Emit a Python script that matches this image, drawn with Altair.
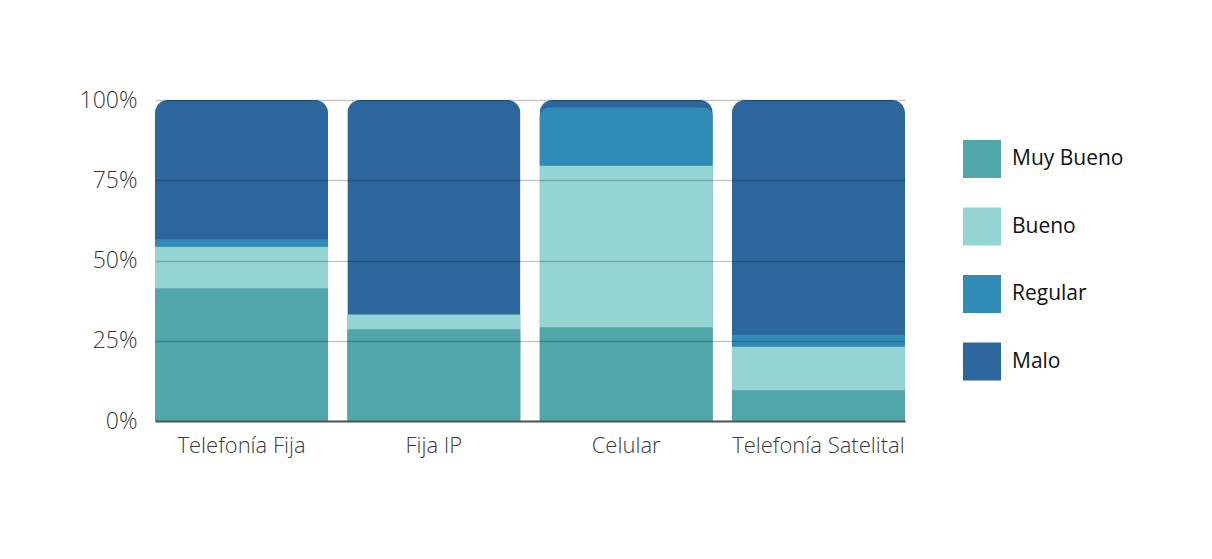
import altair as alt
import pandas as pd

categories = ["Telefonía Fija", "Fija IP", "Celular", "Telefonía Satelital"]
series = ["Muy Bueno", "Bueno", "Regular", "Malo"]
muy_bueno = [41.3, 28.5, 29.1, 9.5]
bueno = [13.1, 4.7, 50.5, 13.7]
regular = [2.2, 0.0, 18.1, 3.7]
malo = [43.4, 66.8, 2.3, 73.1]
colors = ["#50A6A9", "#94D5D4", "#318BB7", "#2D669C"]
y_ticks = [0, 25, 50, 75, 100]

rows = []
for i, c in enumerate(categories):
    vals = [muy_bueno[i], bueno[i], regular[i], malo[i]]
    base = 0.0
    for s, v in zip(series, vals):
        rows.append({"cat": c, "serie": s, "bottom": base, "top": base + v, "order": series.index(s)})
        base += v
seg = pd.DataFrame(rows)
seg_nomalo = seg[seg["serie"] != "Malo"]
tot = pd.DataFrame({"cat": categories,
                    "total": [a + b + c + d for a, b, c, d in zip(muy_bueno, bueno, regular, malo)]})

FONT = "Open Sans"

x_enc = alt.X("cat:N", sort=categories, title=None,
              scale=alt.Scale(paddingInner=0.1, paddingOuter=0),
              axis=alt.Axis(labelAngle=0, labelFont=FONT, labelFontSize=22, labelFontWeight=300,
                            labelColor="#3a3a3a", labelPadding=14, ticks=False,
                            domainColor="#555555", domainWidth=2, zindex=1, grid=False))

y_scale = alt.Scale(domain=[0, 100], nice=False)

bg = alt.Chart(tot).mark_bar(color=colors[3], cornerRadiusTopLeft=13, cornerRadiusTopRight=13).encode(
    x=x_enc,
    y=alt.Y("total:Q", scale=y_scale, title=None,
            axis=alt.Axis(values=y_ticks, labelExpr="datum.value + '%'", labelFont=FONT,
                          labelFontSize=23, labelFontWeight=300, labelColor="#3a3a3a",
                          labelPadding=18, ticks=False, domain=False, grid=True,
                          gridColor="#000000", gridOpacity=0.22, gridWidth=1.5, zindex=1)),
)

bars = alt.Chart(seg_nomalo).mark_bar(
    cornerRadiusTopLeft={"expr": "datum.top > 95 ? 9 : 0"},
    cornerRadiusTopRight={"expr": "datum.top > 95 ? 9 : 0"},
).encode(
    x=alt.X("cat:N", sort=categories),
    y=alt.Y("bottom:Q", scale=y_scale),
    y2="top:Q",
    color=alt.Color("serie:N", sort=series,
                    scale=alt.Scale(domain=series, range=colors),
                    legend=alt.Legend(title=None, orient="none", legendX=808, legendY=40,
                                      symbolType="square", symbolSize=1444, symbolStrokeWidth=0,
                                      symbolOpacity=1, labelFont=FONT, labelFontSize=21,
                                      labelColor="#111111", labelOffset=11, rowPadding=29.5,
                                      padding=0, labelLimit=300)),
)

chart = alt.layer(bg, bars).properties(
    width=750, height=321,
    autosize=alt.AutoSizeParams(type="none"),
    padding={"left": 147, "top": 92, "right": 299, "bottom": 130},
).configure_view(stroke=None)

chart.save("out.html", embed_options={"renderer": "svg", "actions": False})
